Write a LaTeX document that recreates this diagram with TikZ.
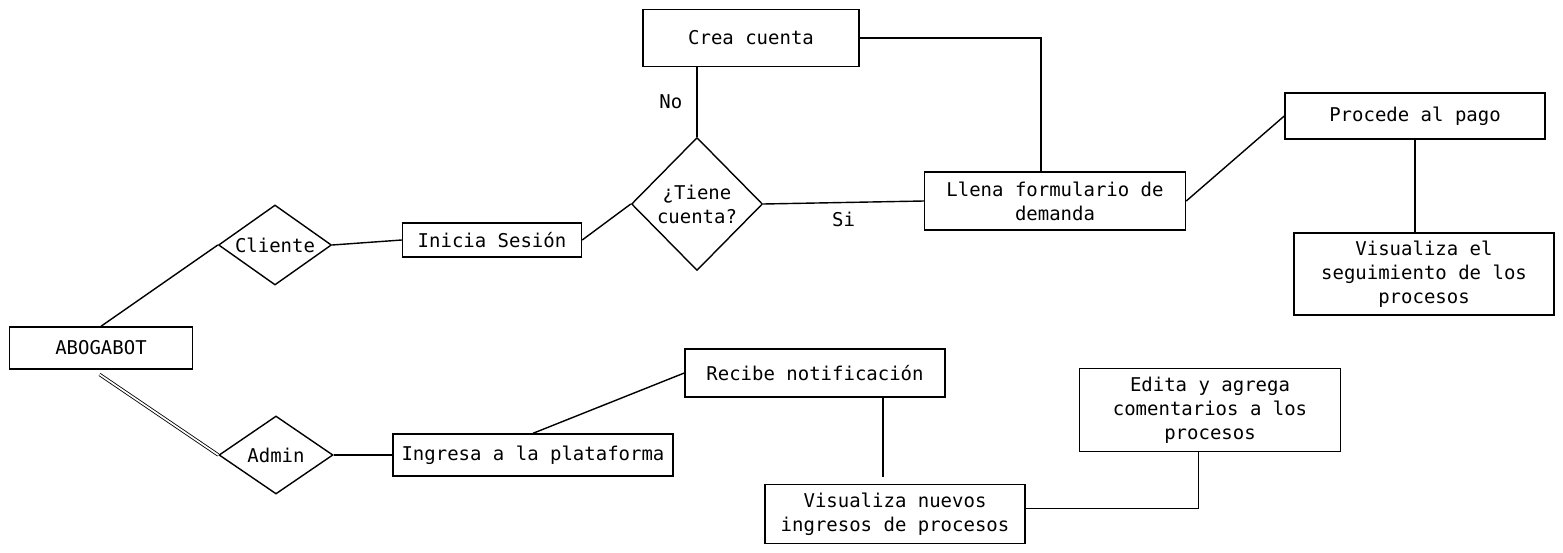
\documentclass[tikz,border=0pt]{standalone}
\usepackage{fontspec}
\setmonofont{DejaVu Sans Mono}
\usetikzlibrary{shapes.geometric}

\begin{document}
\begin{tikzpicture}[
  x=0.025cm, y=-0.025cm,
  every node/.style={align=center, font=\ttfamily\fontsize{13.5}{17}\selectfont},
  % Boxes (actions) - plain rectangles
  box/.style={rectangle, draw=black, line width=1pt, inner sep=2pt},
  % Decisions - diamonds
  decision/.style={diamond, draw=black, line width=1pt, inner sep=0pt},
  % Links - plain lines, no tips
  link/.style={draw=black, line width=1pt},
  linklabel/.style={inner sep=2pt}
]
\useasboundingbox (0,0) rectangle (1563,552);

% === NODES ===

% Root
\node[box, minimum width=4.575cm, minimum height=1.05cm] (abogabot) at (101, 348) {ABOGABOT};

% Client branch
\node[decision, aspect=1.4, minimum width=2.825cm, minimum height=2cm] (cliente) at (275, 245) {Cliente};
\node[box, minimum width=4.475cm, minimum height=0.85cm] (sesion) at (492, 240) {Inicia Sesión};
\node[decision, aspect=1, minimum width=3.275cm, minimum height=3.325cm] (tiene) at (697, 204) {¿Tiene\\cuenta?};
\node[box, minimum width=5.4cm, minimum height=1.425cm] (crea) at (751, 38) {Crea cuenta};
\node[box, minimum width=6.525cm, minimum height=1.45cm] (llena) at (1055, 201) {Llena formulario de\\demanda};
\node[box, minimum width=6.5cm, minimum height=1.15cm] (pago) at (1415, 116) {Procede al pago};
\node[box, minimum width=6.5cm, minimum height=2.05cm] (seguim) at (1424, 274) {Visualiza el\\seguimiento de los\\procesos};

% Admin branch
\node[decision, aspect=1.45, minimum width=2.85cm, minimum height=1.95cm] (admin) at (276, 455) {Admin};
\node[box, minimum width=7cm, minimum height=1.05cm] (ingresa) at (533, 455) {Ingresa a la plataforma};
\node[box, minimum width=6.5cm, minimum height=1.2cm] (recibe) at (815, 373) {Recibe notificación};
\node[box, minimum width=6.5cm, minimum height=1.475cm] (nuevos) at (895, 514) {Visualiza nuevos\\ingresos de procesos};
\node[box, minimum width=6.525cm, minimum height=2.075cm] (edita) at (1210, 410) {Edita y agrega\\comentarios a los\\procesos};

\coordinate (recend) at (883, 477);

% === LINKS ===

\draw[link] (abogabot.north) -- (cliente.west);
\draw[link, double, double distance=1.2pt, line width=0.6pt, shorten <=6pt] ([xshift=-6]abogabot.south) -- (admin.west);

\draw[link] (cliente.east) -- (sesion.west);
\draw[link] (sesion.east) -- (tiene.west);
\draw[link] (tiene.north) -- node[linklabel, left=8pt] {No} (tiene.north |- crea.south);
\draw[link] (tiene.east) -- node[linklabel, below=4pt] {Si} (llena.west);
\draw[link] (crea.east) -| ([xshift=-10]llena.north);
\draw[link] (llena.east) -- (pago.west);
\draw[link] (pago.south) -- (pago.south |- seguim.north);

\draw[link] (admin.east) -- (ingresa.west);
\draw[link] (ingresa.north) -- (recibe.west);
\draw[link] (recibe.south -| recend) -- (recend);
\draw[link] ([yshift=4]nuevos.east) -| ([xshift=-8]edita.south);

\end{tikzpicture}
\end{document}
